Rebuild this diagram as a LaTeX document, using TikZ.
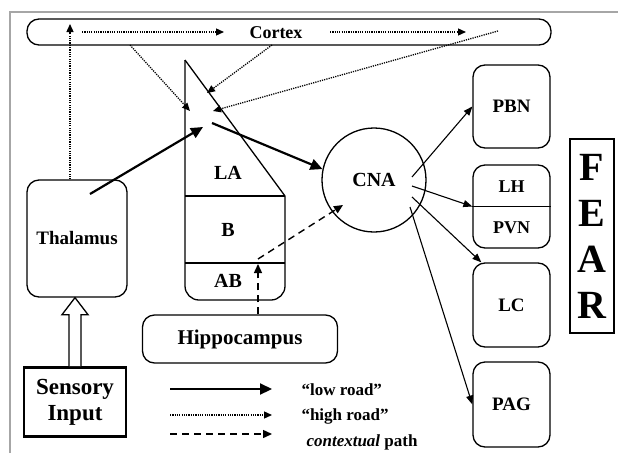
\documentclass[tikz,border=0pt]{standalone}
\usepackage{fontspec}
\setmainfont{Liberation Serif}
\usepackage{tikz}
\usetikzlibrary{positioning, calc, arrows.meta}

\tikzset{
	rbox/.style={draw, line width=1.3pt, rounded corners=12pt, font=\fontsize{19}{21}\selectfont\bfseries},
	lbl/.style={font=\fontsize{20}{22}\selectfont\bfseries},
	keytext/.style={anchor=west, font=\fontsize{17}{19}\selectfont\bfseries},
	lowroad/.style={line width=2.2pt, -{Triangle[length=12pt, width=11pt]}},
	highroad/.style={line width=1.3pt, dash pattern=on 1.2pt off 1.1pt, -{Triangle[length=8pt, width=7pt]}},
	ctxpath/.style={line width=1.4pt, dash pattern=on 7pt off 5pt, -{Triangle[length=9pt, width=8pt]}},
	outarrow/.style={line width=1.1pt, -{Triangle[length=9pt, width=7pt]}}
}

\begin{document}
\begin{tikzpicture}[x=1pt, y=-1pt]
			\useasboundingbox (0,0) rectangle (618,453);
			\draw[gray!70, line width=1.6pt] (10,453) -- (10,12) -- (618,12);
			
			\node[rbox, minimum width=524pt, minimum height=26pt] (cortex) at (289,32) {};
			\node[font=\fontsize{18}{20}\selectfont\bfseries] (cortexlbl) at (276,33) {Cortex};
			\node[rbox, minimum width=100pt, minimum height=117pt] (thal) at (77,238.5) {Thalamus};
			\node[draw, circle, line width=1.3pt, minimum size=104pt, lbl] (cna) at (374,180) {CNA};
			\node[rbox, font=\fontsize{21}{23}\selectfont\bfseries, minimum width=195pt, minimum height=48pt] (hippo) at (240,339) {Hippocampus};
			\node[draw, line width=2.6pt, minimum width=102pt, minimum height=69pt, align=center, font=\fontsize{23}{26}\selectfont\bfseries] (sens) at (75,402) {Sensory\\Input};
			
			\node[rbox, minimum width=77pt, minimum height=83pt] (pbn) at (511.5,106.5) {PBN};
			\node[rbox, minimum width=77pt, minimum height=83pt] (lhpvn) at (511.5,206.5) {};
			\node[font=\fontsize{18}{20}\selectfont\bfseries] (lh) at (511.5,187) {LH};
			\node[font=\fontsize{18}{20}\selectfont\bfseries] (pvn) at (511.5,228) {PVN};
			\node[rbox, minimum width=77pt, minimum height=84pt] (lc) at (511.5,305) {LC};
			\node[rbox, minimum width=77pt, minimum height=85pt] (pag) at (511.5,404.5) {PAG};
			\node[draw, line width=2.6pt, minimum width=44pt, minimum height=194pt, align=center, font=\fontsize{40}{46}\selectfont\bfseries] (fear) at (592,236) {F\\E\\A\\R};
			\draw[line width=1.3pt] (lhpvn.west) -- (lhpvn.east);
			
			\draw[line width=1.3pt, rounded corners=14pt] (285,196) -- (285,300) -- (185,300) -- (185,60);
			\draw[line width=1.3pt] (185,60) -- (285,196);
			\draw[line width=1.3pt] (185,196) -- (285,196);
			\draw[line width=1.3pt] (185,263) -- (285,263);
			\node[lbl] (la) at (228,173) {LA};
			\node[lbl] (b) at (228,230) {B};
			\node[lbl] (ab) at (228,281) {AB};
			
			\coordinate (ch1) at (82,32);
			\coordinate (ch2) at (224,32);
			\coordinate (ch3) at (330,32);
			\coordinate (ch4) at (466,32);
			\coordinate (ch5) at (498,31);
			\coordinate (cb1) at (130,45);
			\coordinate (cb2) at (272,45);
			\coordinate (la1) at (190,111);
			\coordinate (la2) at (207,93);
			\coordinate (la3) at (213,111);
			\coordinate (lowin) at (203,127);
			\coordinate (lowout) at (212,123);
			\coordinate (thalout) at (90,194);
			\coordinate (thalup) at (70,24);
			
			\draw[highroad] (ch1) -- (ch2);
			\draw[highroad] (ch3) -- (ch4);
			\draw[highroad] (cb1) -- (la1);
			\draw[highroad] (cb2) -- (la2);
			\draw[highroad] (ch5) -- (la3);
			\draw[highroad] (thal.north -| thalup) -- (thalup);
			
			\draw[lowroad] (thalout) -- (lowin);
			\draw[lowroad] (lowout) -- (cna.168);
			
			\coordinate (abtip) at (258,264);
			\coordinate (abpt) at (258,259);
			\coordinate (cnain) at (343,205);
			\draw[ctxpath] (hippo.north -| abtip) -- (abtip);
			\draw[ctxpath] (abpt) -- (cnain);
			
			\coordinate (o1) at (412,177);
			\coordinate (o2) at (412,186);
			\coordinate (o3) at (412,197);
			\coordinate (o4) at (410,207);
			\draw[outarrow] (o1) -- (pbn.west);
			\draw[outarrow] (o2) -- (lhpvn.west);
			\draw[outarrow] (o3) -- ([xshift=9pt]lc.north west);
			\draw[outarrow] (o4) -- (pag.west);
			
			\coordinate (hs) at (sens.north);
			\coordinate (ht) at (sens.north |- thal.south);
			\draw[line width=1.3pt, fill=white] ($(hs)+(-6,0)$) -- ($(ht)+(-6,17)$) -- ($(ht)+(-13,17)$) -- (ht) -- ($(ht)+(13,17)$) -- ($(ht)+(6,17)$) -- ($(hs)+(6,0)$);
			
			\coordinate (k1a) at (170,389);
			\coordinate (k1b) at (272,389);
			\coordinate (k2a) at (170,415);
			\coordinate (k2b) at (272,415);
			\coordinate (k3a) at (170,434);
			\coordinate (k3b) at (272,434);
			\draw[lowroad] (k1a) -- (k1b);
			\draw[highroad] (k2a) -- (k2b);
			\draw[ctxpath] (k3a) -- (k3b);
			\node[keytext] (k1) at (298,390) {``low road''};
			\node[keytext] (k2) at (298,416) {``high road''};
			\node[keytext] (k3) at (303,442) {\textit{contextual} path};
		\end{tikzpicture}
\end{document}
